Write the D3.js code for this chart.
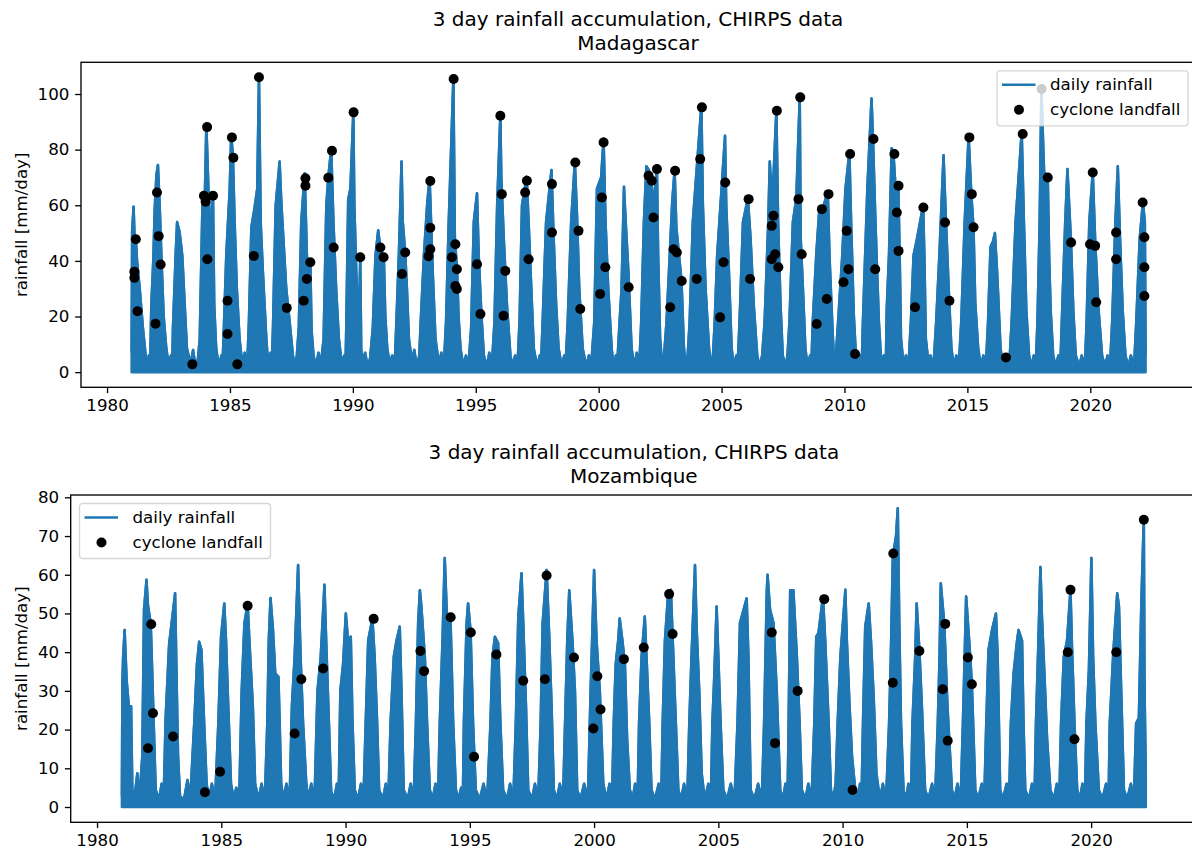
<!DOCTYPE html>
<html>
<head>
<meta charset="utf-8">
<script src="https://cdn.jsdelivr.net/npm/d3@7"></script>
<style>
  body { margin: 0; background: #fff; }
  text { font-family: "DejaVu Sans", sans-serif; }
</style>
</head>
<body>
<svg id="chart" width="1192" height="852"></svg>
<script>
// tick labels
const yearTicks = [1980, 1985, 1990, 1995, 2000, 2005, 2010, 2015, 2020];
const madaTicks = [0, 20, 40, 60, 80, 100];
const mozTicks = [0, 10, 20, 30, 40, 50, 60, 70, 80];

const titleLine = "3 day rainfall accumulation, CHIRPS data";
const yLabel = "rainfall [mm/day]";
const legendLabels = ["daily rainfall", "cyclone landfall"];

// 3 day rainfall, Madagascar: [decimal year, mm/day]
const madaRain = [
  [1981.00,7],[1981.02,50.5],[1981.08,59.5],[1981.12,48],[1981.17,48],[1981.22,40],[1981.33,30],[1981.46,15.7],[1981.57,6],[1981.63,2.5],[1981.70,6],[1981.75,2],
  [1981.80,24],[1981.88,40],[1981.94,59],[1982.01,71],[1982.07,74.5],[1982.14,60],[1982.21,42],[1982.30,20.5],[1982.41,8.5],[1982.50,3],[1982.60,6],[1982.65,2],
  [1982.68,15.7],[1982.79,42],[1982.85,54],[1982.95,50.5],[1983.06,42],[1983.16,24],[1983.25,8.5],[1983.40,3],[1983.50,8],[1983.60,2],[1983.70,5],
  [1983.77,12],[1983.88,60],[1983.98,64],[1984.04,89],[1984.13,64],[1984.22,50],[1984.31,63.5],[1984.36,24],[1984.44,8.5],[1984.55,2],[1984.65,6],[1984.70,3],
  [1984.76,18],[1984.85,42],[1984.99,66],[1985.05,85],[1985.12,78],[1985.19,54],[1985.28,30],[1985.39,12],[1985.50,3],[1985.60,7],[1985.70,2],
  [1985.77,18],[1985.87,52],[1986.00,59],[1986.11,66],[1986.18,106.2],[1986.25,54],[1986.34,36],[1986.48,12],[1986.55,3],[1986.65,7],[1986.70,2],
  [1986.75,16],[1986.86,60],[1987.02,75.7],[1987.09,61],[1987.18,47],[1987.29,30],[1987.43,18],[1987.56,6],[1987.65,2],[1987.72,6],
  [1987.80,16],[1987.90,54],[1988.04,71.5],[1988.13,42],[1988.21,30],[1988.27,40],[1988.32,15],[1988.40,6],[1988.50,2],[1988.60,7],[1988.70,3],
  [1988.81,12],[1988.92,60],[1989.00,70],[1989.12,80.5],[1989.21,54],[1989.32,30],[1989.43,12],[1989.55,3],[1989.65,6],[1989.70,2],
  [1989.73,15.7],[1989.81,62],[1989.90,66],[1990.02,94],[1990.06,60],[1990.14,36],[1990.24,14],[1990.30,41.5],[1990.34,8],[1990.42,4],[1990.50,7],[1990.60,2],[1990.70,5],
  [1990.81,15.7],[1990.92,42],[1991.03,51],[1991.12,44.5],[1991.26,41.5],[1991.32,20],[1991.40,8.5],[1991.50,3],[1991.60,6],[1991.70,2],
  [1991.76,15.7],[1991.87,42],[1991.98,75.7],[1992.03,54],[1992.13,43],[1992.20,30],[1992.28,12],[1992.40,4],[1992.50,8],[1992.60,2],[1992.70,6],
  [1992.76,18],[1992.89,42],[1993.02,60],[1993.12,70],[1993.16,60],[1993.25,36],[1993.36,12],[1993.50,3],[1993.60,7],[1993.70,2],
  [1993.79,18],[1993.90,54],[1994.09,106],[1994.15,48],[1994.24,37],[1994.30,20],[1994.38,8.5],[1994.50,2],[1994.60,6],[1994.70,2],
  [1994.81,15.7],[1994.92,54],[1995.05,64.3],[1995.12,42],[1995.23,20.5],[1995.33,6],[1995.45,2],[1995.55,7],[1995.65,2],
  [1995.76,18],[1995.87,60],[1996.00,92.5],[1996.04,70],[1996.14,48],[1996.27,24],[1996.41,6],[1996.50,2],[1996.60,6],[1996.70,3],
  [1996.78,18],[1996.88,60],[1997.07,70.3],[1997.15,54],[1997.26,30],[1997.36,8.5],[1997.50,2],[1997.60,6],[1997.65,2],
  [1997.72,18],[1997.86,54],[1998.08,72.7],[1998.17,48],[1998.27,24],[1998.37,8.5],[1998.50,2],[1998.60,6],[1998.65,2],
  [1998.74,18],[1998.88,54],[1999.03,75.7],[1999.12,56],[1999.21,30],[1999.35,8.5],[1999.50,2],[1999.60,6],[1999.70,3],
  [1999.82,18],[1999.93,66],[2000.10,70],[2000.20,84],[2000.28,54],[2000.39,30],[2000.53,8.5],[2000.60,2],[2000.70,6],[2000.75,2],
  [2000.85,18],[2000.93,30],[2001.03,66.7],[2001.10,54],[2001.21,36],[2001.34,8.5],[2001.45,2],[2001.55,7],[2001.65,2],
  [2001.73,18],[2001.84,54],[2001.94,74],[2002.02,73],[2002.11,71],[2002.25,60],[2002.37,73.5],[2002.42,42],[2002.50,12],[2002.58,3],[2002.66,6],
  [2002.76,18],[2002.89,42],[2002.99,61],[2003.09,72.7],[2003.16,52],[2003.27,42],[2003.37,33],[2003.47,8.5],[2003.55,2],[2003.62,6],
  [2003.70,18],[2003.83,54],[2004.01,75.7],[2004.18,96],[2004.24,60],[2004.35,30],[2004.49,8.5],[2004.58,2],[2004.65,6],
  [2004.72,18],[2004.82,42],[2005.00,66],[2005.14,85],[2005.19,60],[2005.30,36],[2005.41,8.5],[2005.50,2],[2005.60,6],[2005.65,2],
  [2005.73,18],[2005.87,54],[2006.07,62.5],[2006.18,48],[2006.31,24],[2006.45,6],[2006.55,2],[2006.65,6],
  [2006.75,18],[2006.90,54],[2006.96,75.7],[2007.06,60],[2007.23,94.3],[2007.30,54],[2007.40,24],[2007.49,6],[2007.60,2],[2007.68,6],
  [2007.76,18],[2007.90,54],[2008.04,62.5],[2008.18,99],[2008.22,48],[2008.31,30],[2008.41,8.5],[2008.50,2],[2008.60,6],[2008.65,2],
  [2008.71,18],[2008.85,42],[2008.98,59],[2009.09,58],[2009.32,65],[2009.39,42],[2009.50,18],[2009.58,3],[2009.65,6],
  [2009.74,18],[2009.91,42],[2010.04,66],[2010.20,79.2],[2010.27,54],[2010.38,20.5],[2010.45,8.5],[2010.55,2],[2010.65,6],[2010.70,2],
  [2010.75,18],[2010.93,66],[2011.10,98.4],[2011.16,84],[2011.26,54],[2011.40,18],[2011.50,3],[2011.60,6],[2011.68,2],
  [2011.72,23],[2011.81,42],[2011.92,80.5],[2011.99,79],[2012.08,66],[2012.19,67],[2012.25,40],[2012.30,12],[2012.40,3],[2012.50,6],[2012.60,2],
  [2012.70,18],[2012.81,42],[2012.95,48],[2013.20,60],[2013.25,42],[2013.31,12],[2013.42,3],[2013.50,6],[2013.62,2],
  [2013.73,18],[2013.86,42],[2014.03,78],[2014.13,54],[2014.24,30],[2014.35,8.5],[2014.45,2],[2014.55,6],[2014.65,2],
  [2014.75,18],[2014.89,54],[2015.05,85],[2015.16,64],[2015.25,52],[2015.32,25],[2015.44,8.5],[2015.55,2],[2015.65,6],[2015.75,2],
  [2015.84,18],[2015.94,45],[2016.04,47],[2016.12,50],[2016.21,36],[2016.35,8.5],[2016.45,2],[2016.57,5.3],[2016.70,2],
  [2016.80,18],[2016.96,54],[2017.21,86.5],[2017.30,54],[2017.40,22],[2017.51,6],[2017.60,2],[2017.70,6],[2017.78,2],
  [2017.85,18],[2017.94,54],[2018.01,102],[2018.12,72],[2018.27,70],[2018.33,40],[2018.39,22],[2018.49,6],[2018.60,2],[2018.70,6],[2018.78,2],
  [2018.84,18],[2018.98,54],[2019.07,73],[2019.21,48],[2019.31,22],[2019.41,6],[2019.55,2],[2019.65,6],[2019.78,2],
  [2019.85,18],[2019.96,54],[2020.10,72],[2020.20,47],[2020.34,22],[2020.48,6],[2020.60,2],[2020.70,6],[2020.80,2],
  [2020.89,18],[2021.02,54],[2021.12,74],[2021.21,48],[2021.32,22],[2021.43,6],[2021.55,2],[2021.65,6],[2021.78,2],
  [2021.87,18],[2022.01,48],[2022.14,61],[2022.22,54],[2022.25,6]
];

// cyclone landfall days, Madagascar
const madaLandfall = [
  [1981.11,36.1],[1981.11,33.9],[1981.17,47.8],[1981.24,21.9],[1981.97,17.4],[1982.03,64.6],[1982.10,48.9],[1982.18,38.7],
  [1983.47,2.8],[1983.94,63.4],[1984.01,61.3],[1984.31,63.4],[1984.07,88.1],[1984.08,40.6],[1984.90,25.7],[1984.90,13.7],
  [1985.08,84.4],[1985.14,77.1],[1985.30,2.8],[1985.97,41.8],[1986.18,106.0],[1987.31,23.1],[1988.00,25.7],[1988.07,69.7],
  [1988.07,67.0],[1988.13,33.5],[1988.27,39.5],[1989.00,69.9],[1989.15,79.6],[1989.22,44.8],
  [1990.03,93.4],[1990.30,41.3],[1991.12,44.8],[1991.25,41.3],[1992.00,35.3],[1992.13,43.0],[1993.08,41.7],[1993.15,68.7],
  [1993.15,51.9],[1993.15,44.2],[1994.10,105.4],[1994.03,41.3],[1994.17,46.0],[1994.23,37.0],[1994.17,31.0],[1994.23,29.9],
  [1995.05,38.8],[1995.19,20.9],[1996.00,92.2],[1996.06,64.0],[1996.13,20.3],[1996.20,36.4],[1997.01,64.6],[1997.08,68.8],
  [1997.15,40.6],[1998.10,67.6],[1998.10,50.2],[1999.05,75.4],[1999.18,50.8],[1999.25,22.7],[2000.06,28.1],[2000.13,62.8],
  [2000.20,82.6],[2000.27,37.7],
  [2001.22,30.5],[2002.03,70.6],[2002.16,68.8],[2002.37,73.0],[2002.23,55.6],[2002.91,23.3],[2003.05,44.2],[2003.18,43.0],
  [2003.11,72.4],[2003.38,32.8],[2003.99,33.5],[2004.13,76.6],[2004.20,95.2],[2004.94,19.7],[2005.08,39.5],[2005.15,68.2],
  [2006.10,62.2],[2006.16,33.5],[2007.04,52.6],[2007.11,56.2],[2007.04,40.6],[2007.18,42.4],[2007.31,37.7],[2007.25,94.0],
  [2008.13,62.2],[2008.20,98.8],[2008.26,42.4],[2008.87,17.3],[2009.08,58.6],[2009.28,26.3],[2009.35,64.0],[2009.96,32.3],
  [2010.09,50.8],[2010.16,37.0],[2010.23,78.4],[2010.43,6.5],[2011.18,83.8],[2011.25,37.0],
  [2012.03,78.4],[2012.20,67.0],[2012.13,57.4],[2012.20,43.6],[2012.87,23.3],[2013.21,59.2],[2014.09,53.8],[2014.27,25.7],
  [2015.08,84.4],[2015.18,64.0],[2015.25,52.1],[2016.57,5.3],[2017.25,85.6],[2018.02,101.8],[2018.27,70.0],[2019.22,46.6],
  [2019.99,46.0],[2020.10,71.8],[2020.20,45.4],[2020.24,25.1],[2021.05,50.2],[2021.05,40.6],[2022.13,61.0],[2022.20,48.5],
  [2022.20,37.7],[2022.20,27.4]
];

// 3 day rainfall, Mozambique
const mozRain = [
  [1981.00,3],[1981.02,32],[1981.05,38.8],[1981.11,45.7],[1981.19,32.8],[1981.28,26],[1981.37,26],[1981.42,4.4],[1981.50,2],[1981.62,8.7],[1981.70,2],
  [1981.82,13],[1981.89,51],[1981.99,58.7],[1982.05,52],[1982.16,47.5],[1982.26,26],[1982.36,4.4],[1982.50,2],[1982.60,6],[1982.68,2],
  [1982.76,23],[1982.90,42],[1983.14,55.2],[1983.21,30],[1983.26,13],[1983.34,2.7],[1983.50,2],[1983.64,7],[1983.75,2],
  [1983.91,21.6],[1984.02,37],[1984.11,42.7],[1984.20,40.6],[1984.31,21.6],[1984.41,6],[1984.50,2],[1984.62,6],[1984.75,2],
  [1984.88,21.6],[1984.99,44],[1985.12,52.6],[1985.19,43],[1985.28,26],[1985.39,6],[1985.50,2],[1985.60,5],[1985.72,2],
  [1985.82,30],[1985.93,47.5],[1986.06,52.6],[1986.13,43],[1986.27,26],[1986.36,6],[1986.50,2],[1986.62,6],[1986.75,2],
  [1986.85,21.6],[1986.91,43],[1986.98,54],[1987.08,45.7],[1987.17,34.5],[1987.30,33.6],[1987.41,6],[1987.50,2],[1987.62,6],[1987.75,2],
  [1987.84,26],[1987.95,38.8],[1988.09,62.5],[1988.19,38.8],[1988.29,21.6],[1988.42,6],[1988.50,2],[1988.62,6],[1988.75,2],
  [1988.87,30],[1989.00,38.8],[1989.15,57.4],[1989.22,43],[1989.33,21.6],[1989.42,4],[1989.55,2],[1989.65,6],[1989.72,2],
  [1989.79,30],[1989.90,37],[1990.01,50],[1990.10,43],[1990.21,44],[1990.28,21.6],[1990.37,4.4],[1990.50,2],[1990.62,6],[1990.72,2],
  [1990.81,21.6],[1990.91,43],[1991.08,48.7],[1991.17,38.8],[1991.27,21.6],[1991.35,4.4],[1991.50,2],[1991.62,6],[1991.72,2],
  [1991.81,21.6],[1991.94,38.8],[1992.05,43],[1992.18,46.6],[1992.25,30],[1992.34,4.4],[1992.50,2],[1992.62,6],[1992.74,2],
  [1992.83,21.6],[1992.92,47.5],[1992.99,56],[1993.05,51.8],[1993.19,38.8],[1993.28,21.6],[1993.39,4.4],[1993.50,2],[1993.62,6],[1993.72,2],
  [1993.79,21.6],[1993.90,43],[1993.99,64.3],[1994.09,47.5],[1994.22,49.5],[1994.33,21.6],[1994.44,4.4],[1994.55,2],[1994.65,5],[1994.72,2],
  [1994.76,21.6],[1994.87,47.5],[1994.93,52.6],[1995.03,45.5],[1995.13,21.6],[1995.24,4.4],[1995.40,2],[1995.55,6],[1995.70,2],
  [1995.83,21.6],[1995.91,38.8],[1996.01,44],[1996.14,42.3],[1996.23,21.6],[1996.34,4.4],[1996.50,2],[1996.62,6],[1996.75,2],
  [1996.85,21.6],[1996.95,49.2],[1997.08,60.4],[1997.15,47.5],[1997.26,26],[1997.35,4.4],[1997.50,2],[1997.62,6],[1997.75,2],
  [1997.85,21.6],[1997.93,47.5],[1998.09,61.2],[1998.19,44.9],[1998.29,26],[1998.38,4.4],[1998.50,2],[1998.62,6],[1998.75,2],
  [1998.85,26],[1998.92,43],[1999.00,56],[1999.13,43],[1999.23,30],[1999.32,4.4],[1999.45,2],[1999.60,6],[1999.75,2],
  [1999.86,30],[1999.94,47.5],[2000.00,61.2],[2000.10,43],[2000.23,30],[2000.37,6],[2000.50,2],[2000.62,6],[2000.72,2],
  [2000.79,21.6],[2000.87,37],[2000.97,43],[2001.03,48.7],[2001.14,43],[2001.24,37],[2001.33,17.3],[2001.44,4.4],[2001.55,2],[2001.65,6],[2001.75,2],
  [2001.81,21.6],[2001.91,38.8],[2002.04,49.2],[2002.11,38.8],[2002.22,21.6],[2002.31,4.4],[2002.45,2],[2002.60,6],[2002.70,2],
  [2002.76,21.6],[2002.85,43],[2002.98,55.2],[2003.09,56.1],[2003.19,38.8],[2003.29,21.6],[2003.39,4.4],[2003.50,2],[2003.62,6],[2003.75,2],
  [2003.83,21.6],[2003.92,38.8],[2004.06,62.5],[2004.13,45.7],[2004.23,30],[2004.33,8.7],[2004.45,2],[2004.60,6],[2004.70,2],
  [2004.76,21.6],[2004.83,32.8],[2004.93,51.8],[2005.00,38.8],[2005.09,21.6],[2005.20,4.4],[2005.35,2],[2005.50,6],[2005.65,2],
  [2005.77,21.6],[2005.87,47.5],[2006.01,50.9],[2006.14,53.9],[2006.21,38.8],[2006.30,4.4],[2006.45,2],[2006.60,6],[2006.75,2],
  [2006.84,21.6],[2006.95,56],[2006.98,60],[2007.08,51],[2007.22,47.5],[2007.35,30],[2007.49,4.4],[2007.60,2],[2007.70,6],[2007.78,2],
  [2007.82,17.3],[2007.89,56],[2007.96,56],[2008.02,56],[2008.16,38.8],[2008.27,21.6],[2008.36,4.4],[2008.50,2],[2008.62,6],[2008.75,2],
  [2008.86,21.6],[2008.94,44],[2009.03,45],[2009.21,54.5],[2009.30,43],[2009.44,21.6],[2009.53,4.4],[2009.62,2],[2009.72,6],
  [2009.80,21.6],[2009.91,38.8],[2010.11,56.1],[2010.17,43],[2010.28,26],[2010.38,13],[2010.51,4.4],[2010.60,2],[2010.70,6],[2010.76,2],
  [2010.82,21.6],[2010.91,46.6],[2011.05,52.6],[2011.14,43],[2011.25,28.5],[2011.36,8.7],[2011.50,2],[2011.62,6],[2011.75,2],
  [2011.87,21.6],[2011.94,38.8],[2012.02,64.7],[2012.15,70],[2012.22,77.2],[2012.28,47.5],[2012.35,21.6],[2012.45,4.4],[2012.55,2],[2012.65,6],[2012.75,2],
  [2012.81,21.6],[2012.92,38.8],[2012.98,52.6],[2013.09,40.5],[2013.19,26],[2013.32,4.4],[2013.45,2],[2013.60,6],[2013.72,2],
  [2013.83,21.6],[2013.90,38.8],[2013.95,57.8],[2014.09,47.5],[2014.22,26],[2014.40,4.4],[2014.50,2],[2014.62,6],[2014.75,2],
  [2014.84,21.6],[2014.91,38.8],[2014.97,54.4],[2015.11,41.4],[2015.20,32],[2015.34,4.4],[2015.45,2],[2015.60,6],[2015.70,2],
  [2015.78,21.6],[2015.87,40.6],[2016.01,45.7],[2016.17,50],[2016.24,38.8],[2016.34,4.4],[2016.45,2],[2016.60,6],[2016.70,2],
  [2016.77,21.6],[2016.88,34.5],[2017.02,43],[2017.08,45.7],[2017.22,43],[2017.28,21.6],[2017.35,4.4],[2017.50,2],[2017.62,6],[2017.72,2],
  [2017.78,21.6],[2017.86,38.8],[2017.96,62],[2018.02,49.2],[2018.12,34.5],[2018.23,17.3],[2018.36,4.4],[2018.50,2],[2018.62,6],[2018.72,2],
  [2018.79,21.6],[2018.90,38.8],[2019.03,43],[2019.17,56.1],[2019.23,41.4],[2019.33,21.6],[2019.44,4.4],[2019.55,2],[2019.65,6],[2019.75,2],
  [2019.81,21.6],[2019.91,35.4],[2020.01,64.3],[2020.08,38.8],[2020.17,21.6],[2020.31,4.4],[2020.45,2],[2020.60,6],[2020.70,2],
  [2020.75,21.6],[2020.89,39.7],[2021.05,55.2],[2021.12,51.8],[2021.21,30],[2021.32,4.4],[2021.45,2],[2021.60,6],[2021.72,2],
  [2021.81,21.6],[2021.92,23],[2022.02,52.6],[2022.12,74.6],[2022.15,30],[2022.20,8]
];

// cyclone landfall days, Mozambique
const mozLandfall = [
  [1982.05,15.2],[1982.18,47.2],[1982.25,24.2],[1983.06,18.2],[1984.34,3.8],[1984.95,9.1],[1986.06,52.0],[1987.95,19.0],
  [1988.22,33.0],[1989.10,35.8],[1991.13,48.6],[1993.01,40.3],[1993.16,35.1],[1994.23,49.0],[1995.04,45.1],[1995.17,13.0],
  [1996.07,39.4],[1997.15,32.6],[1998.02,33.0],[1998.09,59.8],[1999.19,38.6],[1999.97,20.3],[2000.13,33.8],[2000.26,25.2],
  [2001.20,38.2],[2002.00,41.2],[2003.02,55.0],[2003.16,44.7],[2007.15,45.1],[2007.28,16.5],[2008.19,30.0],[2009.26,53.7],
  [2010.40,4.4],[2012.04,65.5],[2012.02,32.1],[2013.09,40.3],[2014.13,47.3],[2014.03,30.4],[2014.23,17.1],[2015.04,38.6],
  [2015.20,31.7],[2019.17,56.1],[2019.06,40.0],[2019.33,17.5],[2021.01,40.0],[2022.12,74.2]
];

const blue = "#1f77b4";
const fontSize = 16.67;
const svg = d3.select("#chart");

function drawPanel(p) {
  const x = d3.scaleLinear().domain([1978.94, 2024.26]).range([p.left, p.right]);
  const y = d3.scaleLinear().domain(p.yDomain).range([p.bottom, p.top]);
  const g = svg.append("g");

  const clipId = "clip-" + p.name;
  g.append("clipPath").attr("id", clipId)
    .append("rect")
    .attr("x", p.left).attr("y", p.top)
    .attr("width", p.right - p.left).attr("height", p.bottom - p.top);

  const plot = g.append("g").attr("clip-path", `url(#${clipId})`);

  const area = d3.area()
    .x(d => x(d[0]))
    .y0(y(0))
    .y1(d => y(d[1]));

  const line = d3.line()
    .x(d => x(d[0]))
    .y(d => y(d[1]));

  plot.append("path")
    .attr("d", area(p.rain))
    .attr("fill", blue)
    .attr("stroke", blue)
    .attr("stroke-width", 2.5)
    .attr("stroke-linejoin", "round");

  plot.append("path")
    .attr("d", line(p.rain))
    .attr("fill", "none")
    .attr("stroke", blue)
    .attr("stroke-width", 2.5)
    .attr("stroke-linejoin", "round");

  plot.selectAll("circle")
    .data(p.landfall)
    .join("circle")
    .attr("cx", d => x(d[0]))
    .attr("cy", d => y(d[1]))
    .attr("r", 5)
    .attr("fill", "black");

  // axes
  const xAxis = g.append("g")
    .attr("transform", `translate(0, ${p.bottom})`)
    .call(d3.axisBottom(x).tickValues(yearTicks).tickFormat(d3.format("d")).tickSize(5.8).tickPadding(5.8));
  const yAxis = g.append("g")
    .attr("transform", `translate(${p.left}, 0)`)
    .call(d3.axisLeft(y).tickValues(p.ticks).tickFormat(d3.format("d")).tickSize(5.8).tickPadding(5.8));
  [xAxis, yAxis].forEach(a => {
    a.select(".domain").remove();
    a.selectAll(".tick line").attr("stroke", "black").attr("stroke-width", 1.33);
    a.selectAll(".tick text")
      .attr("fill", "black")
      .style("font-family", "'DejaVu Sans', sans-serif")
      .style("font-size", fontSize + "px");
  });

  g.append("rect")
    .attr("x", p.left).attr("y", p.top)
    .attr("width", p.right - p.left).attr("height", p.bottom - p.top)
    .attr("fill", "none").attr("stroke", "black").attr("stroke-width", 1.33);

  // titles
  const cx = (p.left + p.right) / 2;
  g.append("text")
    .attr("x", cx).attr("y", p.top - 43)
    .attr("text-anchor", "middle").attr("dominant-baseline", "central")
    .style("font-size", "20px")
    .text(titleLine);
  g.append("text")
    .attr("x", cx).attr("y", p.top - 19.3)
    .attr("text-anchor", "middle").attr("dominant-baseline", "central")
    .style("font-size", "20px")
    .text(p.title);

  g.append("text")
    .attr("transform", `translate(21, ${(p.top + p.bottom) / 2}) rotate(-90)`)
    .attr("text-anchor", "middle").attr("dominant-baseline", "central")
    .style("font-size", fontSize + "px")
    .text(yLabel);

  // legend
  const lg = g.append("g").attr("transform", `translate(${p.legendX}, ${p.top + 8.5})`);
  lg.append("rect")
    .attr("width", 191).attr("height", 55).attr("rx", 3)
    .attr("fill", "white").attr("fill-opacity", 0.8)
    .attr("stroke", "#cccccc").attr("stroke-opacity", 0.8).attr("stroke-width", 1.33);
  lg.append("line")
    .attr("x1", 5).attr("x2", 38.5).attr("y1", 14).attr("y2", 14)
    .attr("stroke", blue).attr("stroke-width", 2.5);
  lg.append("circle")
    .attr("cx", 22).attr("cy", 39).attr("r", 5).attr("fill", "black");
  lg.selectAll("text.lab")
    .data(legendLabels)
    .join("text")
    .attr("class", "lab")
    .attr("x", 53).attr("y", (d, i) => 14 + i * 25)
    .attr("dominant-baseline", "central")
    .style("font-size", fontSize + "px")
    .text(d => d);
}

drawPanel({
  name: "mada", title: "Madagascar",
  rain: madaRain, landfall: madaLandfall, ticks: madaTicks,
  left: 81, right: 1195, top: 62.3, bottom: 387.3,
  yDomain: [-5.45, 111.4],
  legendX: 997
});

drawPanel({
  name: "moz", title: "Mozambique",
  rain: mozRain, landfall: mozLandfall, ticks: mozTicks,
  left: 70.7, right: 1197, top: 495, bottom: 822.3,
  yDomain: [-3.95, 80.6],
  legendX: 79.5
});
</script>
</body>
</html>
